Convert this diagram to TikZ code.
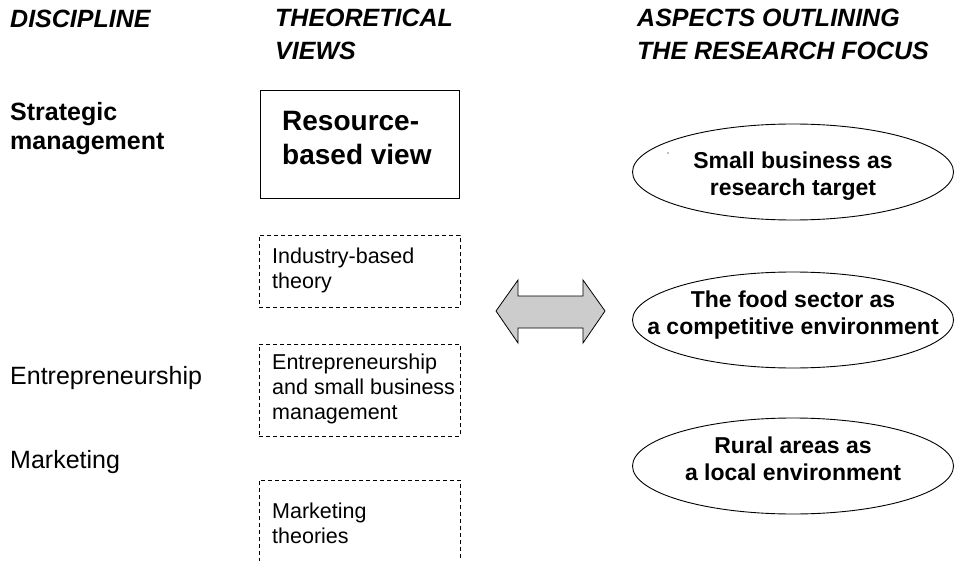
\documentclass[tikz,border=0pt]{standalone}
\usepackage{fontspec}
\setmainfont{Liberation Sans}
\usetikzlibrary{shapes.geometric}
\begin{document}
\begin{tikzpicture}[x=1pt,y=-1pt,
  hdr/.style={font=\fontsize{25}{33}\selectfont\bfseries\itshape, anchor=base west, align=left, inner sep=0pt},
  disc/.style={font=\fontsize{25}{29}\selectfont, anchor=base west, align=left, inner sep=0pt},
  discb/.style={disc, font=\fontsize{25}{29}\selectfont\bfseries},
  rbvtxt/.style={font=\fontsize{28}{34}\selectfont\bfseries, anchor=base west, align=left, inner sep=0pt},
  boxtxt/.style={font=\fontsize{21.5}{25}\selectfont, anchor=base west, align=left, inner sep=0pt},
  solidbox/.style={draw, line width=0.9pt, anchor=north west, inner sep=0pt},
  dbox/.style={draw, line width=0.8pt, dash pattern=on 4pt off 3pt, anchor=north west, inner sep=0pt},
  ell/.style={draw, ellipse, line width=0.9pt, minimum width=321pt, minimum height=96pt, inner sep=0pt},
  elltxt/.style={font=\fontsize{23}{27}\selectfont\bfseries, anchor=base, align=center, inner sep=0pt},
  bigarrow/.style={draw, line width=0.8pt, fill=black!20, line join=miter}
]
\useasboundingbox (0,0) rectangle (955,561);
\fill[white] (0,0) rectangle (955,561);

% headers (base anchor = last line)
\node[hdr] (h1) at (10,28) {DISCIPLINE};
\node[hdr] (h2) at (275,60) {THEORETICAL\\VIEWS};
\node[hdr] (h3) at (637,60) {ASPECTS OUTLINING\\THE RESEARCH FOCUS};

% disciplines
\node[discb] (d1) at (10,150) {Strategic\\management};
\node[disc] (d2) at (10,384) {Entrepreneurship};
\node[disc] (d3) at (10,468) {Marketing};

% theoretical views
\node[solidbox, minimum width=199pt, minimum height=108pt] (rbv) at (260,90) {};
\node[rbvtxt] (rbvt) at (282,165) {Resource-\\based view};

\node[dbox, minimum width=201pt, minimum height=72pt] (ibt) at (259,235) {};
\node[boxtxt] (ibtt) at (272,288) {Industry-based\\theory};

\node[dbox, minimum width=201pt, minimum height=92pt] (esb) at (259,344) {};
\node[boxtxt] (esbt) at (272,419) {Entrepreneurship\\and small business\\management};

\coordinate (mtbl) at (259,562);
\coordinate (mtbr) at (460,562);
\draw[line width=0.8pt, dash pattern=on 4pt off 3pt] (mtbl) |- (460,480) -- (mtbr);
\node[boxtxt] (mtt) at (272,543) {Marketing\\theories};

% double arrow
\draw[bigarrow] (496,311) -- (518,280) -- (518,296) -- (583,296) -- (583,280)
  -- (605,311) -- (583,343) -- (583,328) -- (518,328) -- (518,343) -- cycle;

% ellipses
\node[ell] (e1) at (793,172) {};
\node[elltxt] (e1t) at (793,196) {Small business as\\research target};
\fill (668,153) circle (0.6pt);

\node[ell] (e2) at (793,320) {};
\node[elltxt] (e2t) at (793,334) {The food sector as\\a competitive environment};

\node[ell] (e3) at (793,466) {};
\node[elltxt] (e3t) at (793,480) {Rural areas as\\a local environment};
\end{tikzpicture}
\end{document}
